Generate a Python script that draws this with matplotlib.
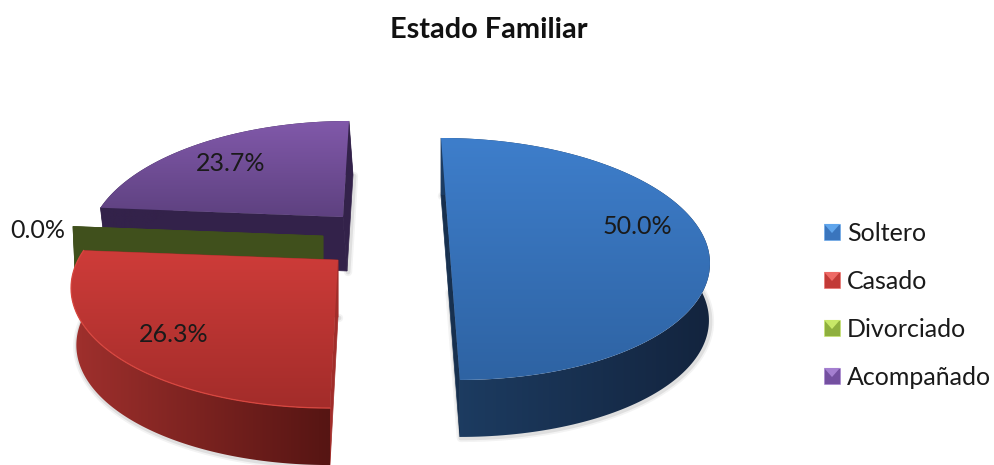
import numpy as np
import matplotlib
matplotlib.use("Agg")
import matplotlib.pyplot as plt
from matplotlib.patches import Polygon, Rectangle
from matplotlib.colors import to_rgb
from matplotlib.legend_handler import HandlerBase

title = "Estado Familiar"
categories = ["Soltero", "Casado", "Divorciado", "Acompañado"]
values = [50.0, 26.3, 0.0, 23.7]

plt.rcParams['font.family'] = ['Lato', 'DejaVu Sans']

# projection geometry of each exploded slice (pixels)
GEOM = {
    "Soltero":    dict(cx=448.5, cy=234.4, a=254, b=116, s=0.078, ax=0.996, dx=0, dy=57),
    "Casado":     dict(cx=338, cy=260, a=260, b=118, s=-0.054, ax=0.98, dx=0, dy=57),
    "Divorciado": dict(cx=323, cy=236, a=255, b=118, s=0.0, ax=0.99, dx=0, dy=55),
    "Acompañado": dict(cx=343, cy=217, a=248, b=115.5, s=-0.0625, ax=0.99, dx=4, dy=54),
}
KP = 0.203
STYLE = {
    "Soltero":    dict(top=("#3e7ecb", "#2e63a3"), side=("#1d3d63", "#13243e"), radial="#17304f", rim=None),
    "Casado":     dict(top=("#ce3c39", "#a32c2a"), side=("#a0302d", "#561513"), radial="#a12d2a", rim="#d8463f"),
    "Divorciado": dict(top=("#40501c", "#40501c"), side=("#40501c", "#40501c"), radial="#40501c", rim=None),
    "Acompañado": dict(top=("#8159aa", "#5e4180"), side=("#33224a", "#33224a"), radial="#33224a", rim=None),
}
LEGEND_COL = ["#3a75bd", "#c23a37", "#8fb03e", "#7450a0"]
LEGEND_LIGHT = ["#5fa5ec", "#ee6a66", "#c8e868", "#a47fd0"]


def proj(theta_deg, g, bottom=False):
    t = np.radians(np.asarray(theta_deg, dtype=float))
    u, v = np.sin(t), np.cos(t)
    w = 1 + KP * v
    a = g["a"] * (g["ax"] if bottom else 1)
    yrel = -g["b"] * v / w
    x = g["cx"] + a * u / w + g["s"] * yrel
    y = g["cy"] + yrel
    if bottom:
        x = x + g["dx"]
        y = y + g["dy"]
    return np.column_stack([x, y])


def apex(g, bottom=False):
    if bottom:
        return np.array([[g["cx"] + g["dx"], g["cy"] + g["dy"]]])
    return np.array([[g["cx"], g["cy"]]])


fig = plt.figure(figsize=(9.95, 4.65), dpi=100)
ax = fig.add_axes([0, 0, 1, 1])
ax.axis("off")


def gradient(poly, c0, c1, horizontal, z):
    x0, y0 = poly.min(axis=0)
    x1, y1 = poly.max(axis=0)
    n = 128
    ramp = np.linspace(0, 1, n)
    rgb = np.outer(1 - ramp, to_rgb(c0)) + np.outer(ramp, to_rgb(c1))
    arr = rgb[None, :, :] if horizontal else rgb[:, None, :]
    im = ax.imshow(arr, extent=(x0, x1, y1, y0), aspect="auto", zorder=z,
                   interpolation="bilinear")
    clip = Polygon(poly, closed=True, transform=ax.transData, fc="none", ec="none")
    im.set_clip_path(clip)


order = [3, 2, 1, 0]
starts = np.concatenate([[0], np.cumsum(values)[:-1]]) * 3.6
for layer, i in enumerate(order):
    name = categories[i]
    g, st = GEOM[name], STYLE[name]
    th0, th1 = starts[i], starts[i] + values[i] * 3.6
    z = 2 + layer * 2
    th = np.linspace(th0, th1, 160)
    top = proj(th, g)
    bot = proj(th, g, True)
    # soft shadow along the lower silhouette
    sil = np.vstack([bot, apex(g, True)])
    for lw, al in ((6, 0.07), (3.5, 0.12)):
        ax.plot(sil[:, 0] + 1, sil[:, 1] + 1, color="#555555", lw=lw, alpha=al,
                zorder=z - 0.5, solid_capstyle="round")
    # radial walls
    for t in (th0, th1):
        p, q = proj([t], g), proj([t], g, True)
        wall = np.vstack([p, apex(g), apex(g, True), q])
        ax.add_patch(Polygon(wall, closed=True, fc=st["radial"], ec=st["radial"],
                             lw=0.5, zorder=z))
    # outer wall
    if values[i] > 0:
        gradient(np.vstack([top, bot[::-1]]), *st["side"], True, z + 0.1)
        face = np.vstack([apex(g), top])
        gradient(face, *st["top"], False, z + 0.2)
        if st["rim"]:
            ax.plot(top[:, 0], top[:, 1], color=st["rim"], lw=0.9, zorder=z + 0.3)

# value labels
label_xy = [(637, 226), (174, 334), (38, 230), (231, 163)]
for v, (x, y) in zip(values, label_xy):
    ax.text(x, y, f"{v:.1f}%", ha="center", va="center", fontsize=18,
            color="#1a1a1a", zorder=30)

ax.text(489, 30, title, ha="center", va="center", fontsize=20.8,
        fontweight="bold", color="#111111", zorder=30)


class PyramidHandler(HandlerBase):
    def create_artists(self, legend, orig, xd, yd, w, h, fs, trans):
        x0, y0 = -xd, -yd
        dark = orig.get_edgecolor()
        base = Rectangle((x0, y0), w, h, fc=orig.get_facecolor(), ec=dark, lw=0.4, transform=trans)
        tri = Polygon([(x0, y0 + h), (x0 + w, y0 + h), (x0 + w / 2, y0 + h * 0.45)],
                      closed=True, fc=dark, ec="none", transform=trans)
        return [base, tri]


handles = [Rectangle((0, 0), 1, 1, fc=c, ec=l) for c, l in zip(LEGEND_COL, LEGEND_LIGHT)]
ax.legend(handles, categories, handler_map={Rectangle: PyramidHandler()},
          loc="upper left", bbox_to_anchor=(824 / 995, 1 - 222 / 465), frameon=False,
          fontsize=18, labelcolor="#1a1a1a", borderpad=0, borderaxespad=0,
          handlelength=0.64, handleheight=0.64, handletextpad=0.28, labelspacing=1.0)

ax.set_xlim(0, 995)
ax.set_ylim(465, 0)
fig.savefig("out.png", dpi=100, facecolor="white")
